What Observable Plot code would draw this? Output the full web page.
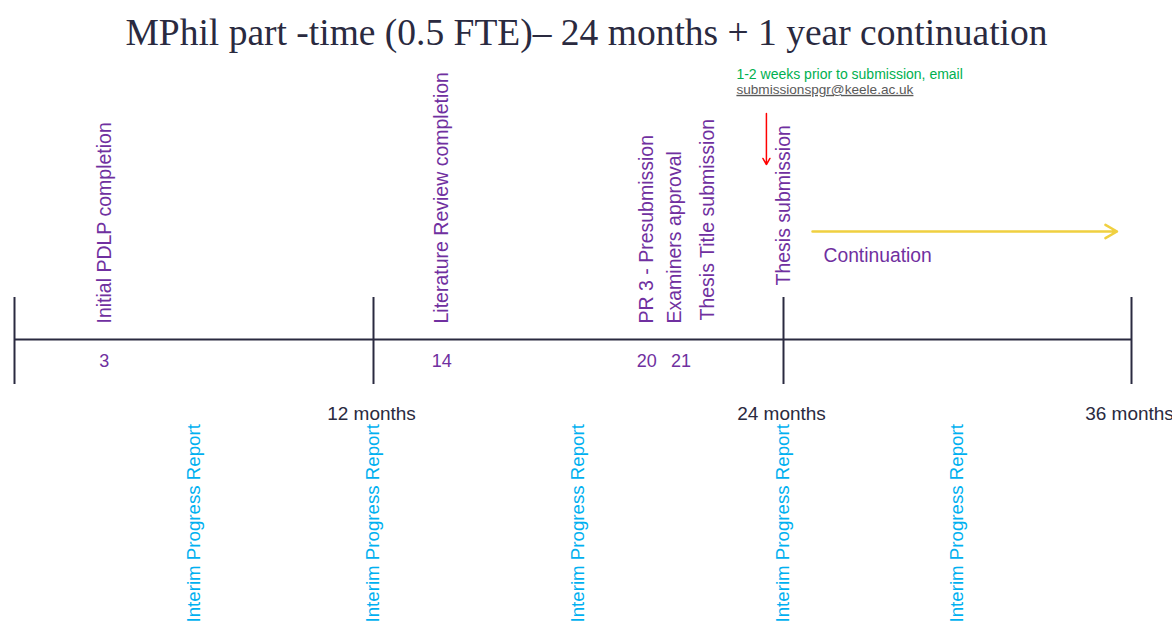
<!DOCTYPE html>
<html>
<head>
<meta charset="utf-8">
<script src="https://cdn.jsdelivr.net/npm/d3@7"></script>
<script src="https://cdn.jsdelivr.net/npm/@observablehq/plot@0.6"></script>
<style>
  html, body { margin: 0; padding: 0; background: #ffffff; }
  #chart svg { display: block; }
</style>
</head>
<body>
<div id="chart"></div>
<script>
// ---- data ----
const title = "MPhil part -time (0.5 FTE)– 24 months + 1 year continuation";
const tickMonths = [0, 12, 24, 36];
const tickLabelMonths = [12, 24, 36];
const tickLabels = ["12 months", "24 months", "36 months"];
const eventMonths = [3, 14, 20];
const eventLabels = ["Initial PDLP completion", "Literature Review completion", "PR 3 - Presubmission"];
const numberMonths = [3, 14, 20, 21];
const numberLabels = ["3", "14", "20", "21"];
const month21 = [21];
const examinersLabel = "Examiners approval";
const titleSubmissionLabel = "Thesis Title submission";
const submissionMonth = [24];
const submissionLabel = "Thesis submission";
const interimMonths = [6, 12, 18, 24, 30];
const interimLabel = "Interim Progress Report";
const continuationSpan = [25, 35.5];
const continuationLabel = "Continuation";
const noteMonth = [23.5];
const noteLines = ["1-2 weeks prior to submission, email", "submissionspgr@keele.ac.uk"];

// ---- styles ----
const purple = "#7030a0";
const ink = "#2a2a40";
const sans = "'Liberation Sans', Arial, sans-serif";

const events = eventMonths.map((m, i) => ({month: m, label: eventLabels[i]}));
const numbers = numberMonths.map((m, i) => ({month: m, label: numberLabels[i]}));

const chart = Plot.plot({
  width: 1172,
  height: 624,
  margin: 0,
  x: {type: "linear", domain: tickMonths, range: [14, 373, 783, 1131], axis: null},
  y: {type: "linear", domain: [0, 624], range: [0, 624], axis: null},
  style: {fontFamily: sans, background: "#ffffff", overflow: "visible"},
  marks: [
    // title
    Plot.text([title], {text: d => d, frameAnchor: "top", dy: 32, fontSize: 37.5, fontFamily: "'Liberation Serif', 'DejaVu Serif', serif", fill: ink, lineAnchor: "middle"}),
    // timeline
    Plot.ruleY([339], {x1: 0, x2: 36, stroke: ink, strokeWidth: 2}),
    Plot.ruleX(tickMonths, {x: d => d, y1: 297, y2: 384, stroke: ink, strokeWidth: 2}),
    Plot.text(tickLabelMonths, {x: d => d, y: 413, text: (d, i) => tickLabels[i], dx: -2, fontSize: 19, fill: ink}),
    // events above the line
    Plot.text(events, {x: "month", y: 323, text: "label", rotate: -90, textAnchor: "start", fontSize: 19.5, fill: purple}),
    Plot.text(month21, {x: d => d, y: 323, text: () => examinersLabel, rotate: -90, textAnchor: "start", dx: -6, fontSize: 19.5, fill: purple}),
    Plot.text(month21, {x: d => d, y: 320, text: () => titleSubmissionLabel, rotate: -90, textAnchor: "start", dx: 27, fontSize: 19.5, fill: purple}),
    Plot.text(numbers, {x: "month", y: 361, text: "label", fontSize: 18, fill: purple}),
    Plot.text(submissionMonth, {x: d => d, y: 285, text: () => submissionLabel, rotate: -90, textAnchor: "start", fontSize: 19.5, fill: purple}),
    // interim reports
    Plot.text(interimMonths, {x: d => d, y: 622, text: () => interimLabel, rotate: -90, textAnchor: "start", fontSize: 18.7, fill: "#00b0f0"}),
    // continuation
    Plot.arrow([continuationSpan], {x1: d => d[0], x2: d => d[1], y1: 231, y2: 231, stroke: "#f0d040", strokeWidth: 2.5, headLength: 8}),
    Plot.text([continuationSpan], {x: d => d[0], y: 255, text: () => continuationLabel, textAnchor: "start", dx: 11, fontSize: 19.3, fill: purple}),
    // note + red arrow
    Plot.arrow(noteMonth, {x1: d => d, x2: d => d, y1: 113, y2: 164, stroke: "#ff0000", strokeWidth: 1.5, headLength: 7}),
    Plot.text(noteMonth, {x: d => d, y: 74, text: () => noteLines[0], textAnchor: "start", dx: -30, fontSize: 14, fill: "#00b050"}),
    Plot.text(noteMonth, {x: d => d, y: 89, text: () => noteLines[1], textAnchor: "start", dx: -30, fontSize: 13.6, fill: "#595959"})
  ]
});

d3.select(chart).selectAll("text").filter(function() { return this.textContent === noteLines[1]; })
  .style("text-decoration", "underline");

document.getElementById("chart").appendChild(chart);
</script>
</body>
</html>
